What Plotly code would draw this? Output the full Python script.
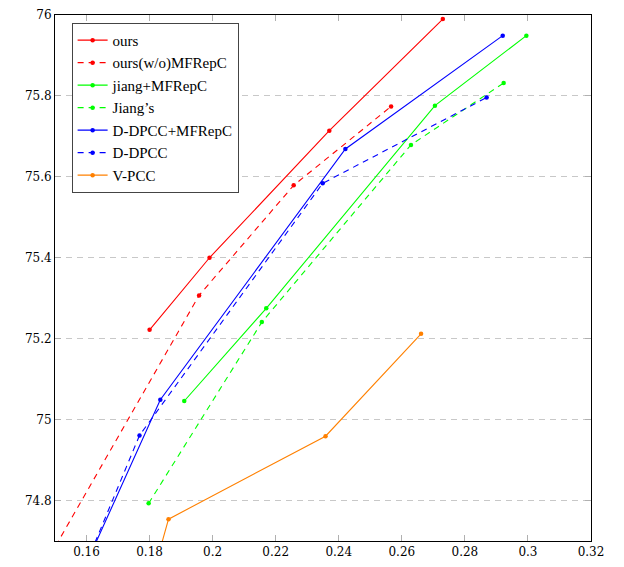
import plotly.graph_objects as go

ours_x = [0.180, 0.199, 0.237, 0.273]
ours_y = [75.222, 75.400, 75.714, 75.990]

ours_wo_x = [0.145, 0.1957, 0.2257, 0.2566]
ours_wo_y = [74.617, 75.307, 75.579, 75.774]

jiang_mf_x = [0.191, 0.217, 0.2705, 0.2995]
jiang_mf_y = [75.046, 75.275, 75.776, 75.949]

jiang_x = [0.1797, 0.2156, 0.2629, 0.2923]
jiang_y = [74.793, 75.241, 75.679, 75.832]

ddpcc_mf_x = [0.160, 0.1834, 0.2421, 0.292]
ddpcc_mf_y = [74.645, 75.049, 75.669, 75.949]

ddpcc_x = [0.160, 0.1768, 0.2349, 0.2869]
ddpcc_y = [74.646, 74.961, 75.584, 75.796]

vpcc_x = [0.180, 0.186, 0.2358, 0.2661]
vpcc_y = [74.587, 74.754, 74.959, 75.212]

x_ticks = [0.16, 0.18, 0.2, 0.22, 0.24, 0.26, 0.28, 0.3, 0.32]
x_tick_labels = ["0.16", "0.18", "0.2", "0.22", "0.24", "0.26", "0.28", "0.3", "0.32"]
y_ticks = [74.8, 75.0, 75.2, 75.4, 75.6, 75.8, 76.0]
y_tick_labels = ["74.8", "75", "75.2", "75.4", "75.6", "75.8", "76"]

series = [
    ("ours", ours_x, ours_y, "#ff0000", "solid"),
    ("ours(w/o)MFRepC", ours_wo_x, ours_wo_y, "#ff0000", "6px,5px"),
    ("jiang+MFRepC", jiang_mf_x, jiang_mf_y, "#00ff00", "solid"),
    ("Jiang\u2019s", jiang_x, jiang_y, "#00ff00", "6px,5px"),
    ("D-DPCC+MFRepC", ddpcc_mf_x, ddpcc_mf_y, "#0000ff", "solid"),
    ("D-DPCC", ddpcc_x, ddpcc_y, "#0000ff", "6px,5px"),
    ("V-PCC", vpcc_x, vpcc_y, "#ff8000", "solid"),
]

fig = go.Figure()
for name, xs, ys, color, dash in series:
    fig.add_trace(go.Scatter(
        x=xs, y=ys, name=name, mode="lines+markers",
        line=dict(color=color, width=1.1, dash=dash),
        marker=dict(color=color, size=4.5),
        cliponaxis=True,
    ))

font_family = "Liberation Serif, DejaVu Serif, serif"
fig.update_layout(
    width=624, height=567,
    margin=dict(l=55, r=33, t=8, b=24),
    plot_bgcolor="white", paper_bgcolor="white",
    font=dict(family=font_family, size=14, color="black"),
    showlegend=True,
    legend=dict(
        x=0.031, y=0.985, xanchor="left", yanchor="top",
        bgcolor="white", bordercolor="#444444", borderwidth=1,
        font=dict(family=font_family, size=15),
        itemwidth=30, tracegroupgap=0,
    ),
    xaxis=dict(
        range=[0.15, 0.32], tickvals=x_ticks, ticktext=x_tick_labels,
        showgrid=False, zeroline=False,
        showline=True, linecolor="black", linewidth=1, mirror="allticks",
        ticks="inside", ticklen=6, tickcolor="#b0b0b0", tickwidth=1,
        tickfont=dict(family="DejaVu Serif, serif", size=12),
    ),
    yaxis=dict(
        range=[74.7, 76.0], tickvals=y_ticks, ticktext=y_tick_labels,
        showgrid=True, gridcolor="#c8c8c8", griddash="6px,5px", gridwidth=1,
        zeroline=False,
        showline=True, linecolor="black", linewidth=1, mirror="allticks",
        ticks="inside", ticklen=6, tickcolor="#b0b0b0", tickwidth=1,
        tickfont=dict(family="DejaVu Serif, serif", size=12),
    ),
)

fig.write_html("out.html", config={"displayModeBar": False},
               post_script="document.body.style.margin='0px';")
